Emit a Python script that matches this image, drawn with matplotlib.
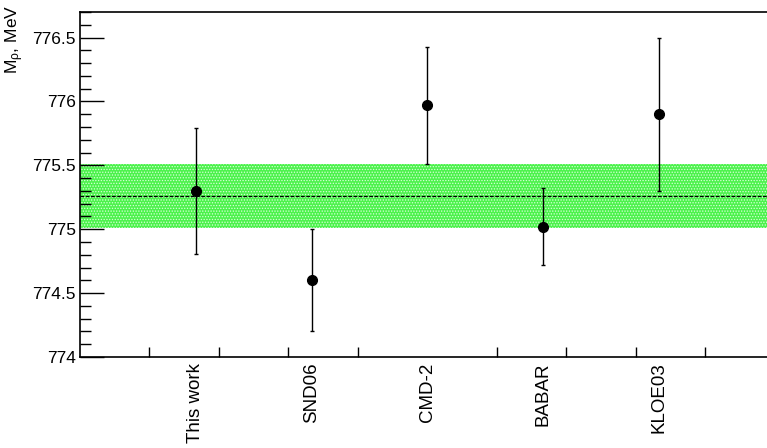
import matplotlib.pyplot as plt
from matplotlib.ticker import MultipleLocator, FixedLocator

plt.rcParams["font.family"] = ["Liberation Sans", "DejaVu Sans"]
plt.rcParams["mathtext.fontset"] = "custom"
plt.rcParams["mathtext.rm"] = "Liberation Sans"
plt.rcParams["mathtext.it"] = "Liberation Sans"
plt.rcParams["hatch.linewidth"] = 0.6

# Measurements of the rho meson mass
experiments = ["This work", "SND06", "CMD-2", "BABAR", "KLOE03"]
mass = [775.30, 774.60, 775.97, 775.02, 775.90]
err = [0.49, 0.40, 0.46, 0.30, 0.60]

# average and its uncertainty band
avg = 775.26
avg_err = 0.25

fig = plt.figure(figsize=(7.67, 4.48), dpi=100)
# axes runs past the right edge of the picture, as in the original
ax = fig.add_axes([80 / 767, 91 / 448, 694.8 / 767, 345 / 448])

xpos = list(range(1, len(experiments) + 1))

ax.axhspan(avg - avg_err, avg + avg_err, facecolor="#4cf24c", edgecolor="#d8ffd8",
           hatch="......", linewidth=0, zorder=1)
ax.axhline(avg, color="black", linewidth=0.9, linestyle=(0, (3, 1.2)), zorder=2)

ax.errorbar(xpos, mass, yerr=err, fmt="o", color="black", markersize=7,
            elinewidth=1.0, capsize=1.2, capthick=1.0, zorder=3)

ax.set_xlim(0, 6)
ax.set_ylim(774, 776.7)

# y axis: major every 0.5, minor every 0.1, ticks inside
ax.yaxis.set_minor_locator(MultipleLocator(0.1))
ax.set_yticks([774, 774.5, 775, 775.5, 776, 776.5])
ax.set_yticklabels(["774", "774.5", "775", "775.5", "776", "776.5"])
ax.tick_params(axis="y", which="major", direction="in", length=17, width=1.0,
               labelsize=12.5, pad=3)
ax.tick_params(axis="y", which="minor", direction="in", length=8, width=1.0)

# x axis: labels at the points, plain tick marks every 0.6
ax.set_xticks(xpos)
ax.set_xticklabels(experiments, rotation=90, fontsize=13.5)
ax.tick_params(axis="x", which="major", length=0, pad=4)
ax.xaxis.set_minor_locator(FixedLocator([0.6 * k for k in range(1, 10)]))
ax.tick_params(axis="x", which="minor", direction="in", length=7, width=1.0)

for s in ax.spines.values():
    s.set_linewidth(1.2)
ax.spines["right"].set_visible(False)

fig.text(15 / 767, 1 - 5 / 448, r"M$_{\rho}$, MeV", rotation=90, fontsize=12.5,
         ha="center", va="top")

fig.savefig("out.png", dpi=100)
